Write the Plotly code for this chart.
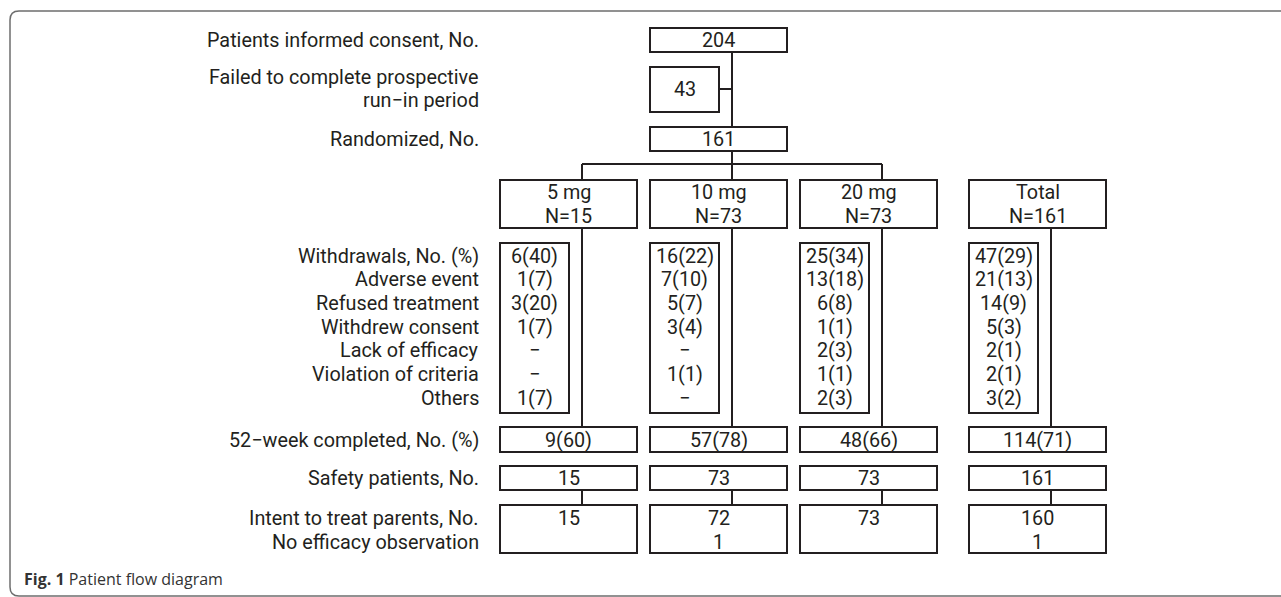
import plotly.graph_objects as go

# ---------------- data ----------------
consent_n = "204"
failed_runin_n = "43"
randomized_n = "161"

arms = ["5 mg", "10 mg", "20 mg", "Total"]
arm_n = ["N=15", "N=73", "N=73", "N=161"]

reason_labels = ["Withdrawals, No. (%)", "Adverse event", "Refused treatment",
                 "Withdrew consent", "Lack of efficacy", "Violation of criteria", "Others"]
w_5mg = ["6(40)", "1(7)", "3(20)", "1(7)", "\u2212", "\u2212", "1(7)"]
w_10mg = ["16(22)", "7(10)", "5(7)", "3(4)", "\u2212", "1(1)", "\u2212"]
w_20mg = ["25(34)", "13(18)", "6(8)", "1(1)", "2(3)", "1(1)", "2(3)"]
w_total = ["47(29)", "21(13)", "14(9)", "5(3)", "2(1)", "2(1)", "3(2)"]

completed = ["9(60)", "57(78)", "48(66)", "114(71)"]
safety = ["15", "73", "73", "161"]
itt = ["15", "72", "73", "160"]
no_efficacy = ["", "1", "", "1"]

top_labels = ["Patients informed consent, No.", "Failed to complete prospective",
              "run\u2212in period", "Randomized, No."]
bottom_labels = ["52\u2212week completed, No. (%)", "Safety patients, No.",
                 "Intent to treat parents, No.", "No efficacy observation"]
caption_bold = "Fig. 1"
caption_text = "Patient flow diagram"

# ---------------- layout constants ----------------
W, H = 1281, 597
INK = "#231f20"
LW = 2
FONT = "Roboto, Noto Sans, sans-serif"
FS = 19.8
LABEL_X = 481
DY = 0

arm_left = [500, 650, 800, 969]
BOX_W = 137
WBOX_W = 69
STEM = 82

shapes = []
ann = []


def rect(x0, y0, x1, y1):
    shapes.append(dict(type="rect", xref="x", yref="y", x0=x0, y0=y0, x1=x1, y1=y1,
                       line=dict(color=INK, width=LW), fillcolor="rgba(0,0,0,0)", layer="above"))


def line(x0, y0, x1, y1):
    shapes.append(dict(type="line", xref="x", yref="y", x0=x0, y0=y0, x1=x1, y1=y1,
                       line=dict(color=INK, width=LW), layer="above"))


def text(x, y, s, anchor="center", size=FS):
    ann.append(dict(x=x, y=y + DY, xref="x", yref="y", text=s, showarrow=False,
                    xanchor=anchor, yanchor="middle",
                    font=dict(family=FONT, size=size, color=INK)))


# frame
shapes.append(dict(type="path", xref="x", yref="y",
                   path="M 1300,11 L 19,11 Q 10,11 10,20 L 10,587 Q 10,596 19,596 L 1300,596",
                   line=dict(color="#6d6d6d", width=1.5)))

# top section
top_l = 650
rect(top_l, 28, top_l + BOX_W, 52)
text(top_l + BOX_W / 2, 40, consent_n)
rect(top_l, 67, top_l + WBOX_W, 112)
text(top_l + WBOX_W / 2, 89.5, failed_runin_n)
rect(top_l, 127, top_l + BOX_W, 151)
text(top_l + BOX_W / 2, 139, randomized_n)
stem_x = top_l + STEM
line(stem_x, 52, stem_x, 127)
line(top_l + WBOX_W, 89, stem_x, 89)
line(stem_x, 151, stem_x, 164)
line(arm_left[0] + STEM, 164, arm_left[2] + STEM, 164)

text(LABEL_X, 40, top_labels[0], "right")
text(LABEL_X, 77, top_labels[1], "right")
text(LABEL_X, 100, top_labels[2], "right")
text(LABEL_X, 139, top_labels[3], "right")

row_y0, row_dy = 256, 23.7
for i, lab in enumerate(reason_labels):
    text(LABEL_X, row_y0 + i * row_dy, lab, "right")
text(LABEL_X, 440, bottom_labels[0], "right")
text(LABEL_X, 478, bottom_labels[1], "right")
text(LABEL_X, 518, bottom_labels[2], "right")
text(LABEL_X, 542, bottom_labels[3], "right")

w_lists = [w_5mg, w_10mg, w_20mg, w_total]
for k in range(len(arms)):
    L = arm_left[k]
    sx = L + STEM
    cx = L + BOX_W / 2
    if k < 3:
        line(sx, 164, sx, 180)
    rect(L, 180, L + BOX_W, 228)
    text(cx, 192.5, arms[k])
    text(cx, 216, arm_n[k])
    line(sx, 228, sx, 427)
    rect(L, 243, L + WBOX_W, 413)
    for i, v in enumerate(w_lists[k]):
        text(L + WBOX_W / 2, row_y0 + i * row_dy, v)
    rect(L, 427, L + BOX_W, 452)
    text(cx, 440, completed[k])
    rect(L, 466, L + BOX_W, 490)
    text(cx, 478, safety[k])
    line(sx, 490, sx, 505)
    rect(L, 505, L + BOX_W, 553)
    text(cx, 518, itt[k])
    if no_efficacy[k]:
        text(cx, 542, no_efficacy[k])

ann.append(dict(x=22, y=579, xref="x", yref="y", showarrow=False, xanchor="left", yanchor="middle",
                text=f"<b>{caption_bold}</b> {caption_text}",
                font=dict(family="Open Sans, Noto Sans, sans-serif", size=16, color="#333333")))

fig = go.Figure()
fig.add_trace(go.Scatter(x=[0, W], y=[0, H], mode="markers", marker=dict(opacity=0),
                         hoverinfo="skip", showlegend=False))
fig.update_layout(
    width=W, height=H, margin=dict(l=0, r=0, t=0, b=0),
    paper_bgcolor="white", plot_bgcolor="white",
    xaxis=dict(range=[0, W], visible=False, fixedrange=True),
    yaxis=dict(range=[H, 0], visible=False, fixedrange=True),
    shapes=shapes, annotations=ann, showlegend=False,
)
fig.write_html("out.html", config=dict(displayModeBar=False),
               post_script="document.body.style.margin='0px';document.body.style.overflow='hidden';")
